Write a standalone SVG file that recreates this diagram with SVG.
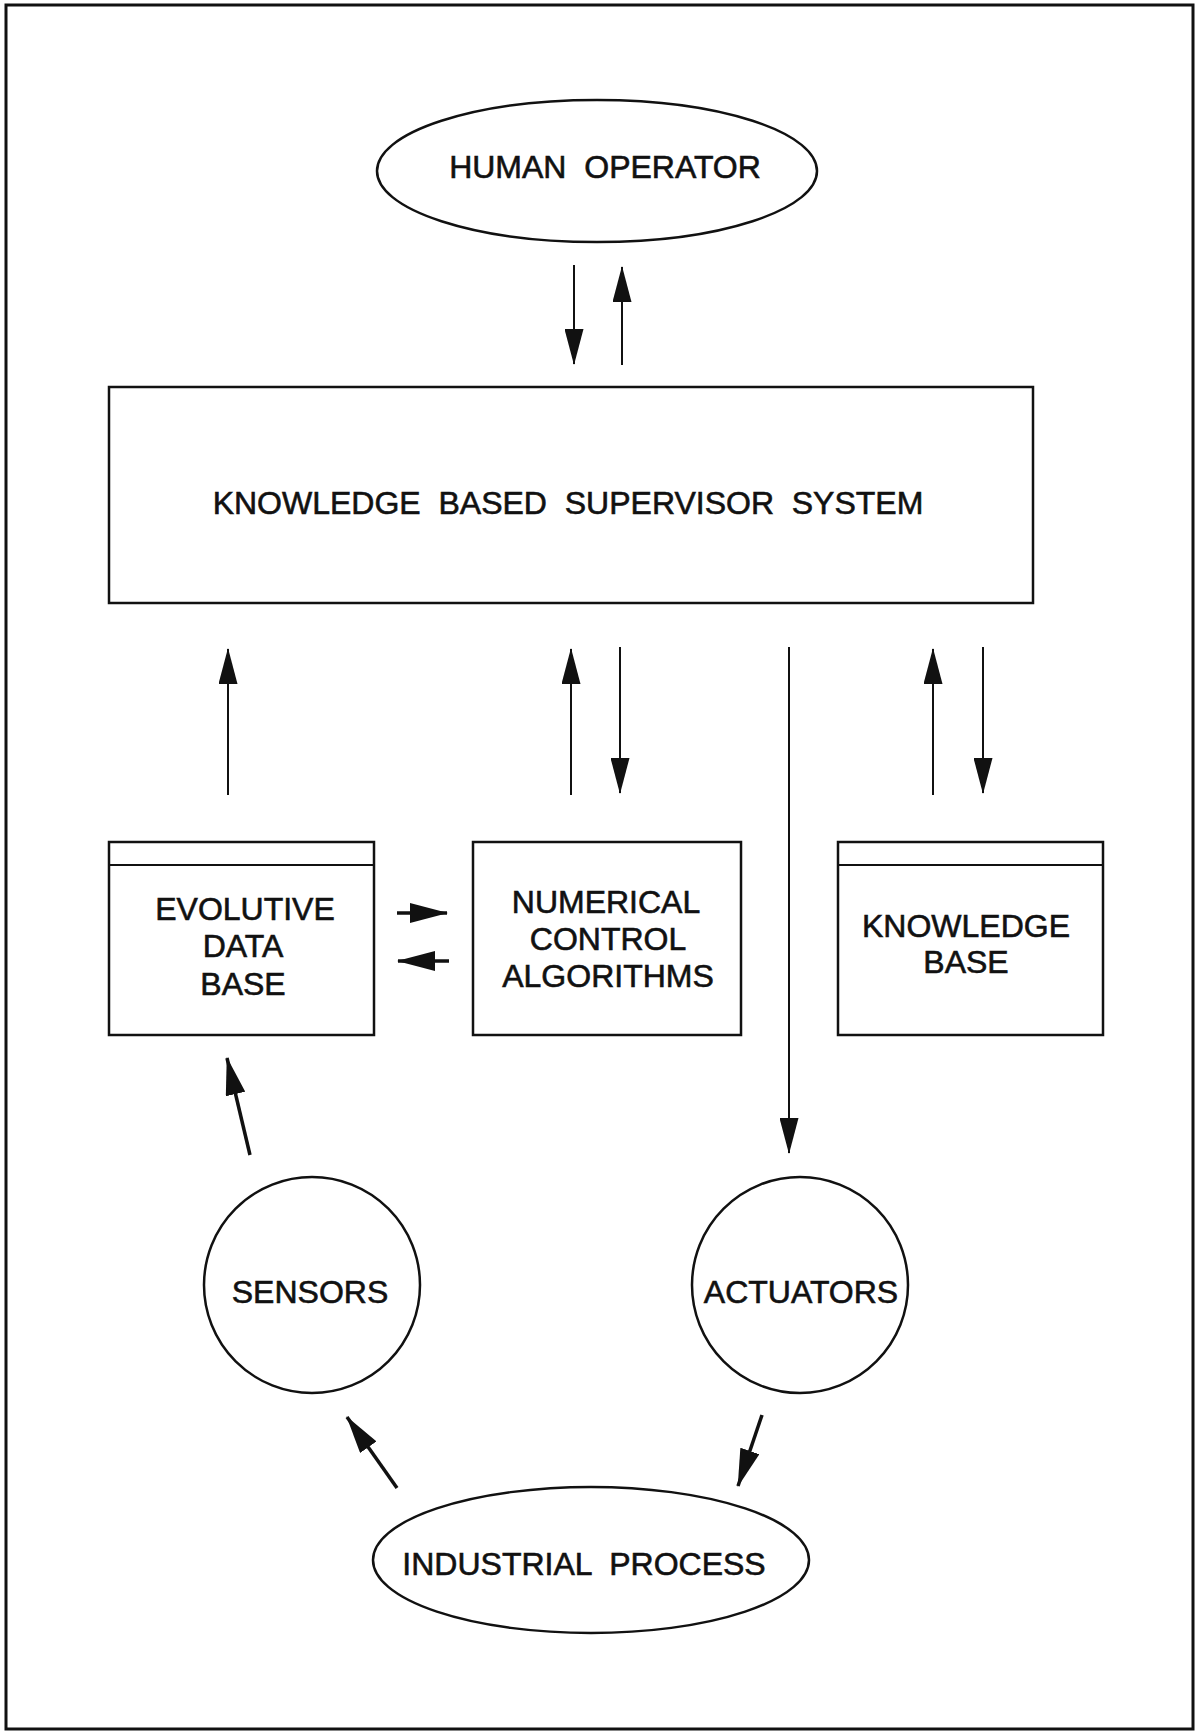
<svg xmlns="http://www.w3.org/2000/svg" width="1197" height="1732" viewBox="0 0 1197 1732">
  <style>
    .shape { fill: #fff; stroke: #111; stroke-width: 2.5; }
    .frame { fill: none; stroke: #111; stroke-width: 3; }
    .link { fill: none; stroke: #111; stroke-width: 2; }
    .bold { stroke-width: 3.5; }
    .label { font-family: "Liberation Sans", Arial, sans-serif; font-size: 32px; fill: #111; stroke: #111; stroke-width: 0.6; text-anchor: middle; white-space: pre; }
  </style>
  <defs>
    <marker id="head" markerUnits="userSpaceOnUse" viewBox="0 0 36 19" markerWidth="36" markerHeight="19" refX="35" refY="9.5" orient="auto">
      <path d="M0,0 L36,9.5 L0,19 Z" fill="#111"/>
    </marker>
    <marker id="head-bold" markerUnits="userSpaceOnUse" viewBox="0 0 38 20" markerWidth="38" markerHeight="20" refX="37" refY="10" orient="auto">
      <path d="M0,0 L38,10 L0,20 Z" fill="#111"/>
    </marker>
  </defs>

  <rect class="frame" x="6" y="5" width="1187" height="1724"/>

  <g id="human-operator">
    <ellipse class="shape" cx="597" cy="171" rx="220" ry="71"/>
    <text class="label" x="605" y="178">HUMAN  OPERATOR</text>
  </g>

  <g id="supervisor">
    <rect class="shape" x="109" y="387" width="924" height="216"/>
    <text class="label" x="568" y="514">KNOWLEDGE  BASED  SUPERVISOR  SYSTEM</text>
  </g>

  <g id="evolutive-data-base">
    <rect class="shape" x="109" y="842" width="265" height="193"/>
    <line class="link" x1="109" y1="865" x2="374" y2="865" stroke-width="2.5"/>
    <text class="label" x="245" y="920">EVOLUTIVE</text>
    <text class="label" x="243" y="957">DATA</text>
    <text class="label" x="243" y="995">BASE</text>
  </g>

  <g id="numerical-control">
    <rect class="shape" x="473" y="842" width="268" height="193"/>
    <text class="label" x="606" y="913">NUMERICAL</text>
    <text class="label" x="608" y="950">CONTROL</text>
    <text class="label" x="608" y="987">ALGORITHMS</text>
  </g>

  <g id="knowledge-base">
    <rect class="shape" x="838" y="842" width="265" height="193"/>
    <line class="link" x1="838" y1="865" x2="1103" y2="865" stroke-width="2.5"/>
    <text class="label" x="966" y="937">KNOWLEDGE</text>
    <text class="label" x="966" y="973">BASE</text>
  </g>

  <g id="sensors">
    <circle class="shape" cx="312" cy="1285" r="108"/>
    <text class="label" x="310" y="1303">SENSORS</text>
  </g>

  <g id="actuators">
    <circle class="shape" cx="800" cy="1285" r="108"/>
    <text class="label" x="801" y="1303">ACTUATORS</text>
  </g>

  <g id="industrial-process">
    <ellipse class="shape" cx="591" cy="1560" rx="218" ry="73"/>
    <text class="label" x="584" y="1575">INDUSTRIAL  PROCESS</text>
  </g>

  <g id="connectors">
    <!-- operator <-> supervisor -->
    <line class="link" x1="574" y1="265" x2="574" y2="364" marker-end="url(#head)"/>
    <line class="link" x1="622" y1="365" x2="622" y2="267" marker-end="url(#head)"/>
    <!-- data base -> supervisor -->
    <line class="link" x1="228" y1="795" x2="228" y2="649" marker-end="url(#head)"/>
    <!-- numerical control <-> supervisor -->
    <line class="link" x1="571" y1="795" x2="571" y2="649" marker-end="url(#head)"/>
    <line class="link" x1="620" y1="647" x2="620" y2="793" marker-end="url(#head)"/>
    <!-- supervisor -> actuators -->
    <line class="link" x1="789" y1="647" x2="789" y2="1153" marker-end="url(#head)"/>
    <!-- knowledge base <-> supervisor -->
    <line class="link" x1="933" y1="795" x2="933" y2="649" marker-end="url(#head)"/>
    <line class="link" x1="983" y1="647" x2="983" y2="793" marker-end="url(#head)"/>
    <!-- data base <-> numerical control -->
    <line class="link bold" x1="397" y1="913" x2="447" y2="913" marker-end="url(#head-bold)"/>
    <line class="link bold" x1="449" y1="961" x2="398" y2="961" marker-end="url(#head-bold)"/>
    <!-- sensors -> data base -->
    <line class="link bold" x1="250" y1="1155" x2="227" y2="1058" marker-end="url(#head-bold)"/>
    <!-- process -> sensors, actuators -> process -->
    <line class="link bold" x1="397" y1="1488" x2="347" y2="1417" marker-end="url(#head-bold)"/>
    <line class="link bold" x1="762" y1="1415" x2="738" y2="1486" marker-end="url(#head-bold)"/>
  </g>
</svg>
